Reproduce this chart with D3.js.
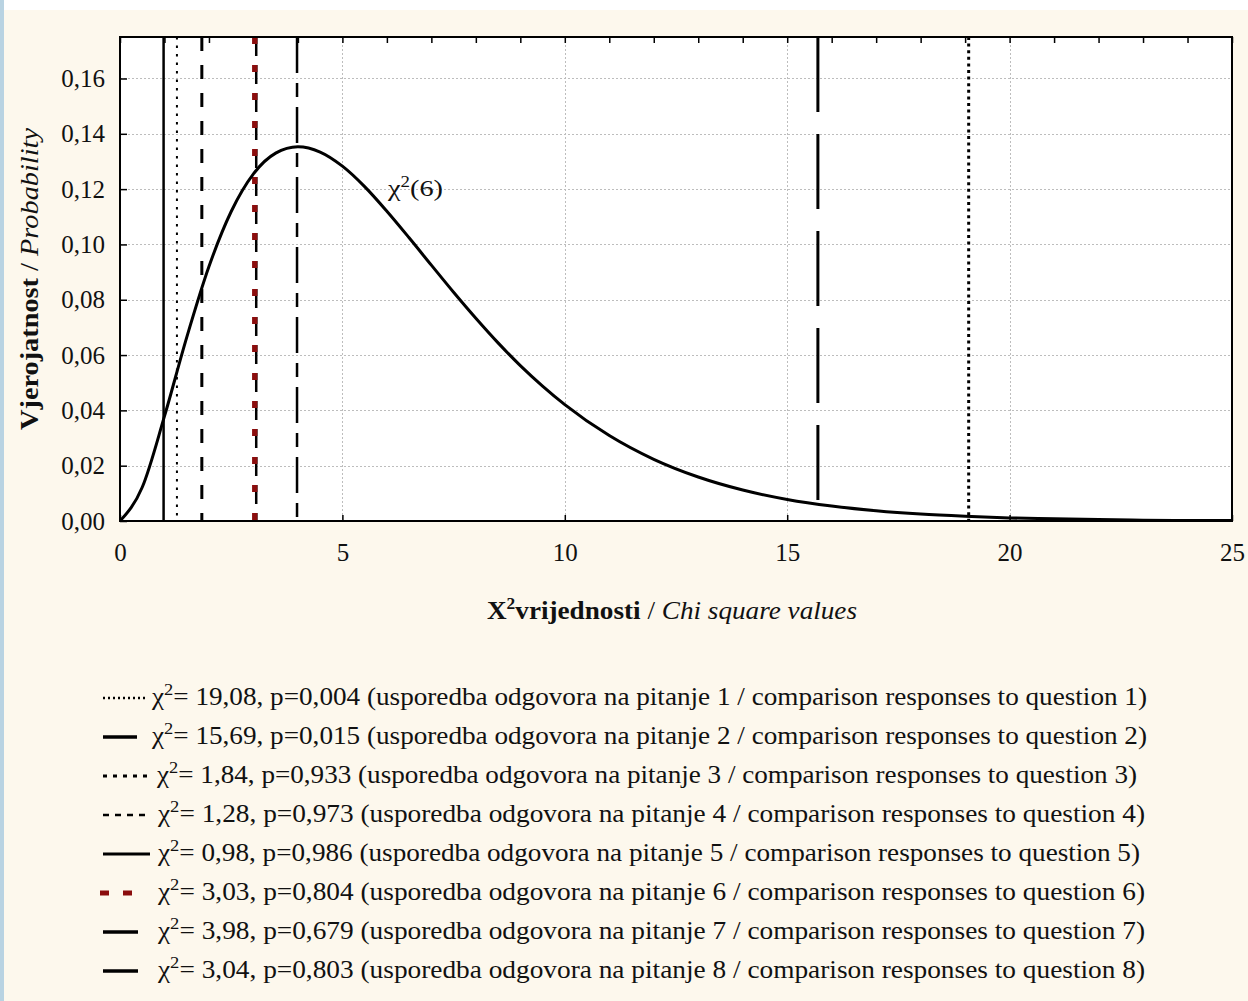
<!DOCTYPE html>
<html><head><meta charset="utf-8">
<script src="https://cdn.jsdelivr.net/npm/d3@7"></script>
<style>body{margin:0;padding:0;background:#fff}svg{display:block}</style>
</head><body>
<svg id="c" width="1248" height="1001"></svg>
<script>
// ---- data ----
const curveX = [0,0.5,1,1.5,2,2.5,3,3.5,4,4.5,5,5.5,6,6.5,7,7.5,8,8.5,9,9.5,10,11,12,13,14,15,16,17,18,19,20,21,22,23,24,25];
const curveY = [0,0.0122,0.0379,0.0664,0.0920,0.1119,0.1255,0.1330,0.1353,0.1334,0.1283,0.1209,0.1120,0.1024,0.0925,0.0827,0.0733,0.0644,0.0562,0.0488,0.0421,0.0309,0.0223,0.0159,0.0112,0.0078,0.0054,0.0037,0.0025,0.0017,0.0011,0.0008,0.0005,0.0003,0.0002,0.0002];
const chiValues = [19.08, 15.69, 1.84, 1.28, 0.98, 3.03, 3.98, 3.04];
const chiLabels = ["19,08","15,69","1,84","1,28","0,98","3,03","3,98","3,04"];
const pLabels = ["0,004","0,015","0,933","0,973","0,986","0,804","0,679","0,803"];
const questions = [1,2,3,4,5,6,7,8];
const yTicks = [0,0.02,0.04,0.06,0.08,0.10,0.12,0.14,0.16];
const xTicks = [0,5,10,15,20,25];
const curveLabel = "(6)";

// ---- styles ----
const lineStyles = [
  {color:"#000", w:3,   dash:"3,3.6"},
  {color:"#000", w:3,   dash:"75,22"},
  {color:"#000", w:3,   dash:"14,14"},
  {color:"#000", w:2,   dash:"2.5,6"},
  {color:"#000", w:2.5, dash:null},
  {color:"#8b0d0d", w:5, dash:"7,21"},
  {color:"#000", w:2.5, dash:"36,10,14,10"},
  {color:"#000", w:2.5, dash:"19,9", off:1}
];
const legendSamples = [
  {x1:103,x2:148,dash:"2,3",w:2.5,color:"#000"},
  {x1:103,x2:137,dash:null,w:3.5,color:"#000"},
  {x1:103,x2:150,dash:"4,6",w:3,color:"#000"},
  {x1:103,x2:145,dash:"6,6",w:2.5,color:"#000"},
  {x1:103,x2:150,dash:null,w:3,color:"#000"},
  {x1:100,x2:134,dash:"9,14",w:5,color:"#8b0d0d"},
  {x1:103,x2:138,dash:null,w:3.5,color:"#000"},
  {x1:103,x2:138,dash:null,w:3.5,color:"#000"}
];
const legendTextStart = [152,152,157,158,158,158,158,158];
const legendTextLen = [995,995,980,987,982,987,987,987];

const serif = "'Liberation Serif','Times New Roman',serif";
const svg = d3.select("#c");

// backgrounds
svg.append("rect").attr("x",0).attr("y",0).attr("width",1248).attr("height",1001).attr("fill","#fdf8ed");
svg.append("rect").attr("x",0).attr("y",0).attr("width",1248).attr("height",10).attr("fill","#ffffff");
svg.append("rect").attr("x",0).attr("y",0).attr("width",4).attr("height",1001).attr("fill","#b9d3e2");

const L=120,R=1232,T=37,B=521;
const x = d3.scaleLinear().domain([0,25]).range([L,R]);
const y = d3.scaleLinear().domain([0,0.175]).range([B,T]);

svg.append("rect").attr("x",L).attr("y",T).attr("width",R-L).attr("height",B-T).attr("fill","#fff");

// grid
const g = svg.append("g");
g.selectAll("line.hg").data(yTicks.filter(d=>d>0)).join("line")
  .attr("x1",L).attr("x2",R).attr("y1",d=>Math.round(y(d))+0.5).attr("y2",d=>Math.round(y(d))+0.5)
  .attr("stroke","#bdbdbd").attr("stroke-width",1).attr("stroke-dasharray","2,2");
g.selectAll("line.vg").data(xTicks.filter(d=>d>0&&d<25)).join("line")
  .attr("y1",T).attr("y2",B).attr("x1",d=>Math.round(x(d))+0.5).attr("x2",d=>Math.round(x(d))+0.5)
  .attr("stroke","#bdbdbd").attr("stroke-width",1).attr("stroke-dasharray","2,2");

// axes
const fmt = d=>d.toFixed(2).replace(".",",");
const ax = svg.append("g").attr("transform",`translate(${L},0)`)
  .call(d3.axisLeft(y).tickValues(yTicks).tickFormat(fmt).tickSizeInner(-7).tickSizeOuter(0).tickPadding(15));
const bx = svg.append("g").attr("transform",`translate(0,${B})`)
  .call(d3.axisBottom(x).tickValues(xTicks).tickFormat(d=>d).tickSizeInner(-6).tickSizeOuter(0).tickPadding(22));
const tx = svg.append("g").attr("transform",`translate(0,${T})`)
  .call(d3.axisTop(x).ticks(25).tickFormat("").tickSizeInner(-6).tickSizeOuter(0));
[ax,bx,tx].forEach(a=>{
  a.select(".domain").remove();
  a.selectAll(".tick line").attr("stroke","#000").attr("stroke-width",1.5);
  a.selectAll("text").attr("font-family",serif).attr("font-size",25).attr("fill","#111");
});

// vertical lines
const vl = svg.append("g");
chiValues.forEach((v,i)=>{
  const s = lineStyles[i];
  vl.append("line").attr("x1",x(v)+(s.off||0)).attr("x2",x(v)+(s.off||0)).attr("y1",T).attr("y2",B)
    .attr("stroke",s.color).attr("stroke-width",s.w).attr("stroke-dasharray",s.dash);
});
{
  const s = lineStyles[5];
  vl.append("line").attr("x1",x(chiValues[5])).attr("x2",x(chiValues[5])).attr("y1",T).attr("y2",B)
    .attr("stroke",s.color).attr("stroke-width",s.w).attr("stroke-dasharray",s.dash);
}

// curve
const pts = curveX.map((d,i)=>[d,curveY[i]]);
svg.append("path").datum(pts)
  .attr("d",d3.line().x(d=>x(d[0])).y(d=>y(d[1])).curve(d3.curveMonotoneX))
  .attr("fill","none").attr("stroke","#000").attr("stroke-width",3);

// frame
svg.append("rect").attr("x",L).attr("y",T).attr("width",R-L).attr("height",B-T)
  .attr("fill","none").attr("stroke","#000").attr("stroke-width",2);

// curve label
const cl = svg.append("text").attr("x",388).attr("y",196).attr("font-family",serif).attr("font-size",24).attr("fill","#111")
  .attr("textLength",55).attr("lengthAdjust","spacingAndGlyphs");
cl.append("tspan").text("χ");
cl.append("tspan").attr("dy",-9).attr("font-size",16).text("2");
cl.append("tspan").attr("dy",9).text(curveLabel);

// y title
const yt = svg.append("text").attr("transform","translate(38,279) rotate(-90)").attr("text-anchor","middle")
  .attr("font-family",serif).attr("font-size",25).attr("fill","#111")
  .attr("textLength",302).attr("lengthAdjust","spacingAndGlyphs");
yt.append("tspan").attr("font-weight","bold").text("Vjerojatnost");
yt.append("tspan").text(" / ");
yt.append("tspan").attr("font-style","italic").text("Probability");

// x title
const xt = svg.append("text").attr("x",487).attr("y",619)
  .attr("font-family",serif).attr("font-size",25).attr("fill","#111")
  .attr("textLength",370).attr("lengthAdjust","spacingAndGlyphs");
xt.append("tspan").attr("font-weight","bold").text("X");
xt.append("tspan").attr("font-weight","bold").attr("dy",-10).attr("font-size",16).text("2");
xt.append("tspan").attr("font-weight","bold").attr("dy",10).text("vrijednosti");
xt.append("tspan").text(" / ");
xt.append("tspan").attr("font-style","italic").text("Chi square values");

// legend
const lg = svg.append("g");
questions.forEach((q,i)=>{
  const base = 705 + i*39;
  const s = legendSamples[i];
  lg.append("line").attr("x1",s.x1).attr("x2",s.x2).attr("y1",base-7).attr("y2",base-7)
    .attr("stroke",s.color).attr("stroke-width",s.w).attr("stroke-dasharray",s.dash);
  const t = lg.append("text").attr("x",legendTextStart[i]).attr("y",base)
    .attr("font-family",serif).attr("font-size",25).attr("fill","#111")
    .attr("textLength",legendTextLen[i]).attr("lengthAdjust","spacingAndGlyphs");
  t.append("tspan").text("χ");
  t.append("tspan").attr("dy",-10).attr("font-size",17).text("2");
  t.append("tspan").attr("dy",10).text(`= ${chiLabels[i]}, p=${pLabels[i]} (usporedba odgovora na pitanje ${q} / comparison responses to question ${q})`);
});
</script>
</body></html>
